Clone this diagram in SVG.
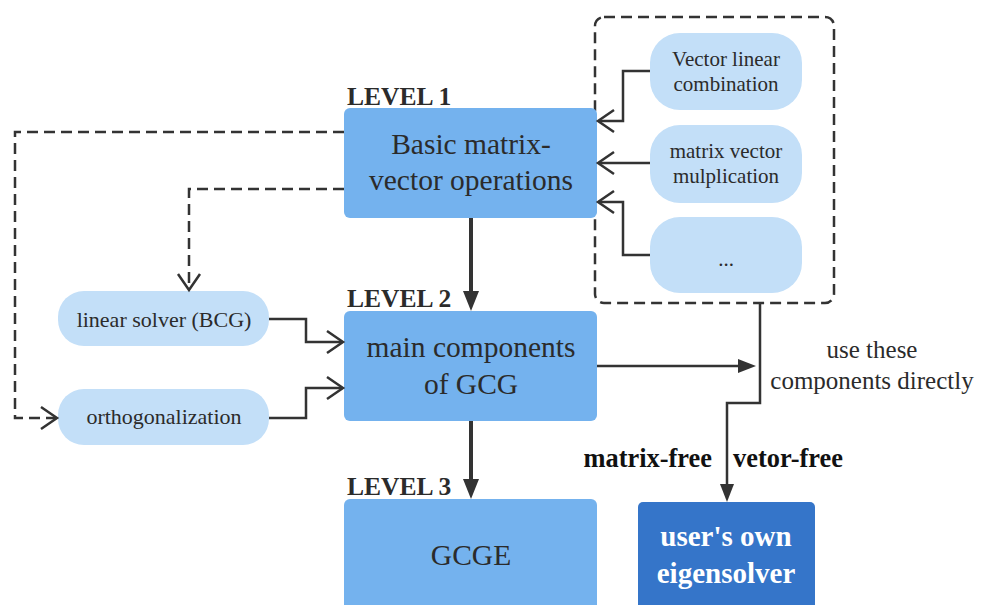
<svg xmlns="http://www.w3.org/2000/svg" width="991" height="605" viewBox="0 0 991 605">
  <defs>
    <style>
      .level { fill: #74b2ee; }
      .pill { fill: #c3dff8; }
      .own { fill: #3575c9; }
      .t { font-family: 'Liberation Serif', 'Times New Roman', serif; fill: #2b2b2b; text-anchor: middle; }
      .big { font-size: 29.5px; }
      .small { font-size: 21px; }
      .side { font-size: 22px; }
      .lbl { font-family: 'Liberation Serif', 'Times New Roman', serif; font-weight: bold; font-size: 25.5px; fill: #2b2b2b; }
      .tag { font-family: 'Liberation Serif', 'Times New Roman', serif; font-weight: bold; font-size: 26.4px; fill: #111; }
      .white { fill: #ffffff; font-weight: bold; font-size: 29px; }
      .line { fill: none; stroke: #333; stroke-width: 2.5; stroke-linejoin: miter; }
      .dash { fill: none; stroke: #333; stroke-width: 2.5; stroke-dasharray: 11 6; }
      .thick { fill: none; stroke: #333; stroke-width: 4; }
      .chev { fill: none; stroke: #333; stroke-width: 2.5; }
      .head { fill: #333; }
    </style>
  </defs>

  <rect width="991" height="605" fill="#ffffff"/>

  <!-- dashed container for the basic operations -->
  <rect x="595" y="17" width="239" height="286" rx="9" class="dash"/>

  <g id="level1">
    <rect x="344" y="108" width="253" height="110" rx="6" class="level"/>
    <text x="471" y="154" class="t big">Basic matrix-</text>
    <text x="471" y="190" class="t big">vector operations</text>
    <text x="347" y="105" class="lbl">LEVEL 1</text>
  </g>

  <g id="level2">
    <rect x="344" y="311" width="253" height="110" rx="6" class="level"/>
    <text x="471" y="357" class="t big">main components</text>
    <text x="471" y="394" class="t big">of GCG</text>
    <text x="347" y="307" class="lbl">LEVEL 2</text>
  </g>

  <g id="level3">
    <rect x="344" y="499" width="253" height="120" rx="6" class="level"/>
    <text x="471" y="565" class="t big">GCGE</text>
    <text x="347" y="495" class="lbl">LEVEL 3</text>
  </g>

  <g id="vec-comb">
    <rect x="650" y="33" width="152" height="77" rx="30" class="pill"/>
    <text x="726" y="66" class="t small">Vector linear</text>
    <text x="726" y="91" class="t small">combination</text>
  </g>

  <g id="mat-vec">
    <rect x="650" y="125" width="152" height="78" rx="30" class="pill"/>
    <text x="726" y="158" class="t small">matrix vector</text>
    <text x="726" y="183" class="t small">mulplication</text>
  </g>

  <g id="more-ops">
    <rect x="650" y="217" width="152" height="76" rx="30" class="pill"/>
    <text x="726" y="266" class="t small">...</text>
  </g>

  <g id="linear-solver">
    <rect x="58" y="291" width="211" height="55" rx="26" class="pill"/>
    <text x="164" y="327" class="t side">linear solver (BCG)</text>
  </g>

  <g id="orthogonalization">
    <rect x="58" y="389" width="211" height="56" rx="26" class="pill"/>
    <text x="164" y="424" class="t side">orthogonalization</text>
  </g>

  <g id="own-solver">
    <rect x="638" y="502" width="177" height="115" rx="5" class="own"/>
    <text x="726" y="546" class="t white">user's own</text>
    <text x="726" y="583" class="t white">eigensolver</text>
  </g>

  <g id="notes">
    <text x="872" y="358" class="t" font-size="25">use these</text>
    <text x="872" y="389" class="t" font-size="25">components directly</text>
    <text x="712" y="467" class="tag" text-anchor="end">matrix-free</text>
    <text x="733" y="467" class="tag">vetor-free</text>
  </g>

  <g id="connectors">
    <!-- level flow -->
    <line x1="471" y1="218" x2="471" y2="294" class="thick"/>
    <polygon points="463,291 479,291 471,311" class="head"/>
    <line x1="471" y1="421" x2="471" y2="482" class="thick"/>
    <polygon points="463,479 479,479 471,499" class="head"/>

    <!-- basic ops into level 1 -->
    <polyline points="650,71 623,71 623,121 599,121" class="line"/>
    <polyline points="614,110 598,121 614,132" class="chev"/>
    <line x1="650" y1="163" x2="599" y2="163" class="line"/>
    <polyline points="614,152 598,163 614,174" class="chev"/>
    <polyline points="650,255 623,255 623,202 599,202" class="line"/>
    <polyline points="614,191 598,202 614,213" class="chev"/>

    <!-- helpers into level 2 -->
    <polyline points="269,319 306,319 306,342 342,342" class="line"/>
    <polyline points="327,331 343,342 327,353" class="chev"/>
    <polyline points="269,418 306,418 306,388 342,388" class="line"/>
    <polyline points="327,377 343,388 327,399" class="chev"/>

    <!-- level 1 uses (dashed) -->
    <polyline points="344,132 15,132 15,418 56,418" class="dash"/>
    <polyline points="41,407 57,418 41,429" class="chev"/>
    <polyline points="344,189 189,189 189,289" class="dash"/>
    <polyline points="178,274 189,290 200,274" class="chev"/>

    <!-- direct use -->
    <line x1="597" y1="366" x2="740" y2="366" class="line"/>
    <polygon points="738,359 756,366 738,373" class="head"/>
    <polyline points="760,303 760,403 727,403 727,486" class="line"/>
    <polygon points="720,484 734,484 727,502" class="head"/>
  </g>
</svg>
